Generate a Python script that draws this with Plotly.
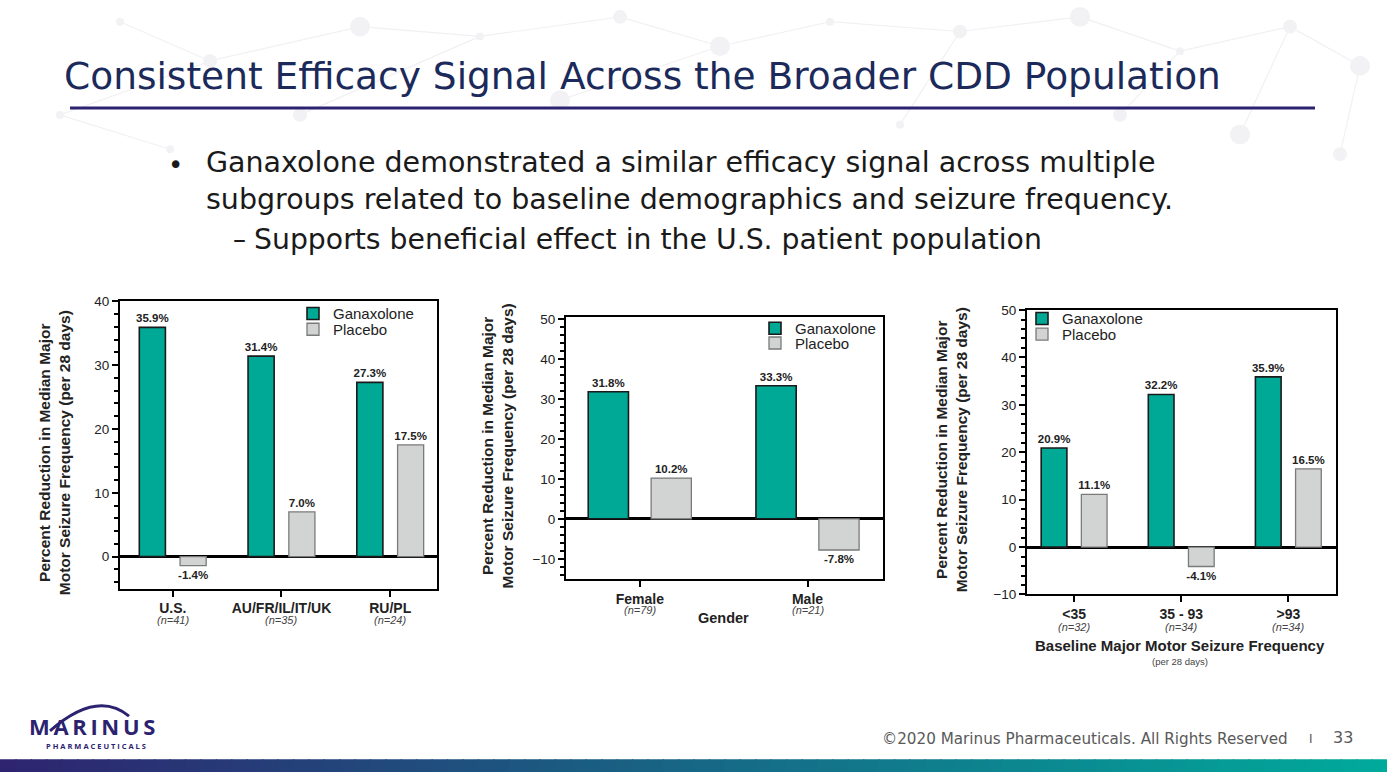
import plotly.graph_objects as go

# ---------------- data ----------------
series_names = ["Ganaxolone", "Placebo"]

cat_region = ["U.S.", "AU/FR/IL/IT/UK", "RU/PL"]
n_region = ["(n=41)", "(n=35)", "(n=24)"]
gan_region = [35.9, 31.4, 27.3]
pla_region = [-1.4, 7.0, 17.5]

cat_gender = ["Female", "Male"]
n_gender = ["(n=79)", "(n=21)"]
gan_gender = [31.8, 33.3]
pla_gender = [10.2, -7.8]

cat_freq = ["<35", "35 - 93", ">93"]
n_freq = ["(n=32)", "(n=34)", "(n=34)"]
gan_freq = [20.9, 32.2, 35.9]
pla_freq = [11.1, -4.1, 16.5]

y_title = "Percent Reduction in Median Major<br>Motor Seizure Frequency (per 28 days)"

# ---------------- styling ----------------
W, H = 1387, 780
GAN = "#00A896"
PLA = "#D2D3D3"
NAVY = "#1B2A5A"
PURPLE = "#2B2370"
AX_FONT = "Liberation Sans, Arial, sans-serif"
SLIDE_FONT = "DejaVu Sans, sans-serif"


def px(x):
    return x / W


def py(y):
    return 1 - y / H


def esc(s):
    return s.replace("<", "&lt;").replace(">", "&gt;")


fig = go.Figure()

panels = [
    dict(cats=cat_region, ns=n_region, gan=gan_region, pla=pla_region, ax="",
         legs=("legend", "legend2"), leg_x=293, leg_y=(296, 312),
         xdom=(120, 437), ydom=(300, 593), yr=[-5, 40], xr=[-0.485, 2.43], ny=625,
         ytx=54, yty=455),
    dict(cats=cat_gender, ns=n_gender, gan=gan_gender, pla=pla_gender, ax="2",
         legs=("legend3", "legend4"), leg_x=755, leg_y=(311, 326),
         xdom=(566, 883), ydom=(316, 583), yr=[-15, 50.5], xr=[-0.44, 1.45], ny=615,
         ytx=497, yty=448),
    dict(cats=cat_freq, ns=n_freq, gan=gan_freq, pla=pla_freq, ax="3",
         legs=("legend5", "legend6"), leg_x=1022, leg_y=(301, 317),
         xdom=(1027, 1336), ydom=(309, 599), yr=[-10, 50], xr=[-0.44, 2.445], ny=632,
         ytx=951, yty=452),
]

annotations = []
layout = dict(
    width=W, height=H, margin=dict(l=0, r=0, t=0, b=0),
    paper_bgcolor="white", plot_bgcolor="rgba(0,0,0,0)",
    barmode="group", bargap=0.25, bargroupgap=0.36,
    showlegend=True,
)
leg_common = dict(font=dict(family=AX_FONT, size=15, color="#222"),
                  bgcolor="rgba(0,0,0,0)", xanchor="left", yanchor="top",
                  itemclick=False, itemdoubleclick=False, tracegroupgap=0)

for p in panels:
    xs = [esc(c) for c in p["cats"]]
    for k, (name, vals, fill, lc, lw) in enumerate([
        (series_names[0], p["gan"], GAN, "#1a1a1a", 1.6),
        (series_names[1], p["pla"], PLA, "#7a7a7a", 1.3),
    ]):
        fig.add_trace(go.Bar(
            x=xs, y=vals, name=name,
            xaxis="x" + p["ax"], yaxis="y" + p["ax"], legend=p["legs"][k],
            marker=dict(color=fill, line=dict(color=lc, width=lw)),
            texttemplate="<b>%{y:.1f}%</b>", textposition="outside",
            textfont=dict(family=AX_FONT, size=11.5, color="#222"),
            constraintext="none", cliponaxis=False,
        ))
        layout[p["legs"][k]] = dict(leg_common, x=px(p["leg_x"]), y=py(p["leg_y"][k]))
    # n annotations
    for c, n in zip(xs, p["ns"]):
        annotations.append(dict(
            x=c, xref="x" + p["ax"], y=py(p["ny"]), yref="paper",
            text="<i>" + n + "</i>", showarrow=False,
            font=dict(family=AX_FONT, size=11, color="#444"),
            xanchor="center", yanchor="middle"))
    # y-axis title
    annotations.append(dict(
        x=px(p["ytx"]), y=py(p["yty"]), xref="paper", yref="paper",
        text="<b>" + y_title + "</b>", textangle=-90, showarrow=False,
        font=dict(family=AX_FONT, size=15.5, color="#222"),
        xanchor="center", yanchor="middle"))

xaxis_common = dict(
    showline=True, linecolor="black", linewidth=2, mirror=True,
    ticks="outside", ticklen=6, tickwidth=2, tickcolor="black",
    tickfont=dict(family=AX_FONT, size=14, color="#222"),
    showgrid=False, zeroline=False, fixedrange=True,
)
yaxis_common = dict(
    showline=True, linecolor="black", linewidth=2, mirror=True,
    ticks="outside", ticklen=6, tickwidth=2, tickcolor="black",
    tickfont=dict(family=AX_FONT, size=13.5, color="#222"),
    dtick=10, minor=dict(dtick=2, ticks="outside", ticklen=4, tickwidth=1.5, tickcolor="black"),
    showgrid=False, zeroline=True, zerolinecolor="black", zerolinewidth=2.5,
    fixedrange=True,
)

for p in panels:
    a = p["ax"]
    layout["xaxis" + a] = dict(
        xaxis_common, domain=[px(p["xdom"][0]), px(p["xdom"][1])],
        range=p["xr"], anchor="y" + a, tickprefix="<b>", ticksuffix="</b>")
    layout["yaxis" + a] = dict(
        yaxis_common, domain=[py(p["ydom"][1]), py(p["ydom"][0])],
        range=p["yr"], anchor="x" + a)


def txt(x, y, text, size, color, family=AX_FONT, xanchor="center", align="center"):
    return dict(x=px(x), y=py(y), xref="paper", yref="paper", text=text,
                xanchor=xanchor, yanchor="middle", align=align, showarrow=False,
                font=dict(family=family, size=size, color=color))


# axis-level captions
annotations += [
    txt(723, 623, "<b>Gender</b>", 14.5, "#222"),
    txt(1180, 651, "<b>Baseline Major Motor Seizure Frequency</b>", 15, "#222"),
    txt(1180, 667, "(per 28 days)", 9.5, "#444"),
]

THIN = "\u2009"
# slide text
annotations += [
    txt(62, 70, "Consistent Efficacy Signal Across the Broader CDD Population", 37.5, NAVY,
        SLIDE_FONT, "left", "left"),
    txt(175, 161, "•", 26, "#1a1a1a", SLIDE_FONT),
    txt(204, 177, "Ganaxolone demonstrated a similar efficacy signal across multiple<br>"
                  "subgroups related to baseline demographics and seizure frequency.",
        28.5, "#1a1a1a", SLIDE_FONT, "left", "left"),
    txt(239, 237, "–", 26, "#1a1a1a", SLIDE_FONT),
    txt(252, 237, "Supports beneficial effect in the U.S. patient population", 28.3, "#1a1a1a",
        SLIDE_FONT, "left", "left"),
    txt(1290, 746, "©2020 Marinus Pharmaceuticals. All Rights Reserved", 15.2, "#595959",
        SLIDE_FONT, "right", "right"),
    txt(1311, 746, "I", 12, "#595959", SLIDE_FONT),
    txt(1343, 745, "33", 16, "#595959", SLIDE_FONT),
    txt(92, 733, "<b>" + THIN.join("MARINUS") + "</b>", 22, PURPLE, "Open Sans, sans-serif"),
    txt(96, 753, "<b>P H A R M A C E U T I C A L S</b>", 7.5, PURPLE, "Open Sans, sans-serif"),
]
layout["annotations"] = annotations

shapes = []
# faint background network decoration
nodes = [(120, 15), (210, 55), (360, 20), (480, 30), (620, 10), (720, 40), (830, 15),
         (960, 25), (1080, 10), (1180, 45), (1290, 20), (1360, 60), (60, 110), (300, 110),
         (560, 95), (900, 120), (1120, 110), (1240, 130), (170, 145), (1340, 150)]
links = [(0, 1), (1, 2), (2, 3), (3, 4), (4, 5), (5, 6), (6, 7), (7, 8), (8, 9), (9, 10),
         (10, 11), (12, 1), (13, 3), (14, 5), (15, 7), (16, 9), (17, 10), (18, 12), (19, 11)]
for a, b in links:
    shapes.append(dict(type="line", xref="paper", yref="paper",
                       x0=px(nodes[a][0]), y0=py(nodes[a][1]), x1=px(nodes[b][0]), y1=py(nodes[b][1]),
                       line=dict(color="#F1F1F4", width=1.2), layer="below"))
for i, (x, y) in enumerate(nodes):
    r = 4 + (i % 3) * 3
    shapes.append(dict(type="circle", xref="paper", yref="paper",
                       x0=px(x - r), x1=px(x + r), y0=py(y + r), y1=py(y - r),
                       fillcolor="#F2F2F5", line=dict(width=0), layer="below"))

# title rule
shapes.append(dict(type="line", xref="paper", yref="paper", x0=px(70), x1=px(1315),
                   y0=py(103), y1=py(103), line=dict(color=PURPLE, width=3)))
# logo arc
arc = "M {:.5f} {:.5f} Q {:.5f} {:.5f} {:.5f} {:.5f}".format(
    px(50), py(738), px(97), py(696), px(129), py(723))
shapes.append(dict(type="path", xref="paper", yref="paper", path=arc,
                   line=dict(color=PURPLE, width=3)))
# bottom gradient band
c0 = (46, 36, 112)
c1 = (0, 170, 155)
steps = 90
for i in range(steps):
    t = i / (steps - 1)
    col = "rgb({},{},{})".format(*[int(round(c0[k] + (c1[k] - c0[k]) * t)) for k in range(3)])
    shapes.append(dict(type="rect", xref="paper", yref="paper",
                       x0=i / steps, x1=(i + 1) / steps + 0.001, y0=0, y1=py(767),
                       fillcolor=col, line=dict(width=0)))
layout["shapes"] = shapes

fig.update_layout(**layout)
fig.write_html(
    "out.html",
    config=dict(displayModeBar=False),
    post_script="document.body.style.margin='0px';document.body.style.overflow='hidden';",
)
